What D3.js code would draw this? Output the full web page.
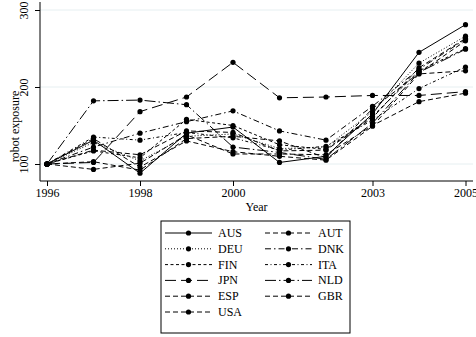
<!DOCTYPE html>
<html>
<head>
<meta charset="utf-8">
<script src="https://cdn.jsdelivr.net/npm/d3@7"></script>
<style>
  html, body { margin: 0; padding: 0; background: #fff; }
  svg { display: block; }
  text { font-family: "Liberation Serif", "Times New Roman", Times, "DejaVu Serif", serif; fill: #000; }
</style>
</head>
<body>
<div id="chart"></div>
<script>
// Years on the x axis
const years = [1996, 1997, 1998, 1999, 2000, 2001, 2002, 2003, 2004, 2005];

// Robot exposure index per country (1996 = 100)
const AUS = [100, 131, 88, 140, 148, 102, 110, 165, 245, 281];
const AUT = [100, 118, 112, 143, 141, 117, 118, 160, 225, 263];
const DEU = [100, 128, 104, 136, 139, 120, 122, 168, 231, 266];
const DNK = [100, 122, 140, 155, 169, 143, 131, 175, 223, 262];
const FIN = [100, 117, 108, 158, 150, 125, 119, 162, 221, 250];
const ITA = [100, 135, 131, 141, 134, 118, 123, 157, 198, 226];
const JPN = [100, 102, 168, 187, 232, 186, 187, 189, 189, 194];
const NLD = [100, 182, 183, 177, 122, 115, 106, 153, 219, 249];
const ESP = [100, 133, 96, 130, 116, 110, 105, 149, 217, 221];
const GBR = [100, 93, 101, 138, 113, 113, 112, 150, 181, 192];
const USA = [100, 103, 92, 133, 136, 130, 108, 172, 218, 260];

const countries = ["AUS", "AUT", "DEU", "DNK", "FIN", "ITA", "JPN", "NLD", "ESP", "GBR", "USA"];
const seriesValues = [AUS, AUT, DEU, DNK, FIN, ITA, JPN, NLD, ESP, GBR, USA];

// Axis ticks
const xTicks = [1996, 1998, 2000, 2003, 2005];
const yTicks = [100, 200, 300];

// Line pattern per country
const dashes = {
  AUS: null,
  AUT: "5,3",
  DEU: "1,2",
  DNK: "6,3,1.5,3",
  FIN: "3,2.5",
  ITA: "3,2.5,1,2.5",
  JPN: "11,5",
  NLD: "11,3,1.5,3",
  ESP: "5,3",
  GBR: "5,3",
  USA: "5,3"
};

const W = 476, H = 337;
const FONT = "Liberation Serif, Times New Roman, serif";
const svg = d3.select("#chart").append("svg").attr("width", W).attr("height", H);

const x = d3.scaleLinear().domain([1996, 2005]).range([47, 465.5]);
const y = d3.scaleLinear().domain([100, 300]).range([164, 10]);

const plotLeft = 40, plotRight = 473, plotBottom = 181, plotTop = 2;

// Gridlines
svg.append("g").selectAll("line").data(yTicks).join("line")
  .attr("x1", plotLeft).attr("x2", plotRight)
  .attr("y1", d => y(d)).attr("y2", d => y(d))
  .attr("stroke", "#e6eff1").attr("stroke-width", 1);

// Axes
const xAxis = d3.axisBottom(x).tickValues(xTicks).tickFormat(d3.format("d")).tickSize(5).tickPadding(2);
const gx = svg.append("g").attr("transform", `translate(0,${plotBottom})`).call(xAxis)
  .attr("font-family", FONT);
gx.select(".domain").attr("d", `M${plotLeft},0H${plotRight}`).attr("stroke", "#000");
gx.selectAll(".tick line").attr("stroke", "#000");
gx.selectAll(".tick text").attr("font-size", 12);

const yAxis = d3.axisLeft(y).tickValues(yTicks).tickSize(5).tickPadding(2);
const gy = svg.append("g").attr("transform", `translate(${plotLeft},0)`).call(yAxis)
  .attr("font-family", FONT);
gy.select(".domain").attr("d", `M0,${plotTop}V${plotBottom}`).attr("stroke", "#000");
gy.selectAll(".tick line").attr("stroke", "#000");
gy.selectAll(".tick text")
  .attr("font-size", 12)
  .attr("text-anchor", "middle").attr("dy", null).attr("x", null)
  .attr("transform", "translate(-12.5,0) rotate(-90)")
  .attr("y", 0);

// Axis titles
svg.append("text").attr("x", (plotLeft + plotRight) / 2).attr("y", 211)
  .attr("text-anchor", "middle").attr("font-size", 12).text("Year");
svg.append("text").attr("transform", `translate(18.5,${(y(100) + y(200)) / 2 + 1}) rotate(-90)`)
  .attr("text-anchor", "middle").attr("font-size", 12).text("robot exposure");

// Series lines and markers
const line = d3.line().x((d, i) => x(years[i])).y(d => y(d));
const gSeries = svg.append("g");
countries.forEach((c, k) => {
  const vals = seriesValues[k];
  gSeries.append("path").datum(vals)
    .attr("d", line)
    .attr("fill", "none").attr("stroke", "#000").attr("stroke-width", 1)
    .attr("stroke-dasharray", dashes[c]);
  gSeries.append("g").selectAll("circle").data(vals).join("circle")
    .attr("cx", (d, i) => x(years[i])).attr("cy", d => y(d))
    .attr("r", 2.6).attr("fill", "#000");
});

// Legend
const legX = 161, legY = 221, legW = 189, legH = 112;
const leg = svg.append("g");
leg.append("rect").attr("x", legX).attr("y", legY).attr("width", legW).attr("height", legH)
  .attr("fill", "#fff").attr("stroke", "#000").attr("stroke-width", 1);
const rowH = 15.8;
countries.forEach((c, k) => {
  const col = k % 2, row = Math.floor(k / 2);
  const cy = legY + 12 + row * rowH;
  const x0 = col === 0 ? 165 : 265;
  const x1 = x0 + 47;
  leg.append("line").attr("x1", x0).attr("x2", x1).attr("y1", cy).attr("y2", cy)
    .attr("stroke", "#000").attr("stroke-width", 1).attr("stroke-dasharray", dashes[c]);
  leg.append("circle").attr("cx", (x0 + x1) / 2).attr("cy", cy).attr("r", 2.6).attr("fill", "#000");
  leg.append("text").attr("x", x1 + 6).attr("y", cy + 4).attr("font-size", 12).text(c);
});
</script>
</body>
</html>
